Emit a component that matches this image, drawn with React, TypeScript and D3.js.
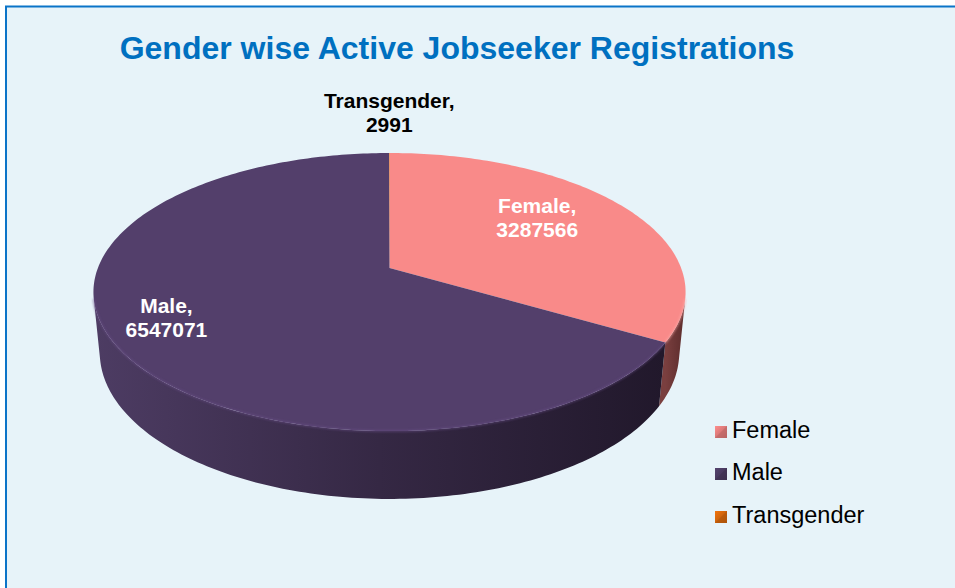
import React from "react";
import * as d3 from "d3";

const title = "Gender wise Active Jobseeker Registrations";
const categories = ["Female", "Male", "Transgender"];
const values = [3287566, 6547071, 2991];
const topColors = ["#F98A89", "#533F6B", "#E36C0A"];
const sideStops = [
  ["#7A3F3F", "#5C2C2C"],
  ["#4D3C63", "#21182B"],
  ["#B8560A", "#8A3F06"],
];
const legendColors = ["#E07A7A", "#4A3A60", "#D2650C"];
const labelColors = ["#FFFFFF", "#FFFFFF", "#000000"];

const W = 955;
const H = 588;
// 3D view of the pie (perspective camera)
const cx = 389.5;
const cy = 268;
const focal = 1494.5;
const dist = 5.125;
const tilt = Math.asin(0.4626);
const thick = 0.236;
const labelK = [0.615, 0.82, 1.0];
const labelDy = [-16, -14, -44.7];

const sinA = Math.sin(tilt);
const cosA = Math.cos(tilt);

function project(X: number, Y: number, Z: number): [number, number] {
  const yc = Y * cosA + Z * sinA;
  const zc = -Y * sinA + Z * cosA + dist;
  return [cx + (focal * X) / zc, cy - (focal * yc) / zc];
}
function ring(theta: number, k = 1, Y = 0): [number, number] {
  return project(k * Math.sin(theta), Y, k * Math.cos(theta));
}
function samples(a0: number, a1: number): number[] {
  const n = Math.max(2, Math.ceil(((a1 - a0) / Math.PI) * 180));
  return d3.range(n + 1).map((i) => a0 + ((a1 - a0) * i) / n);
}
const line = d3.line<[number, number]>();

// visible side range: faces whose outward normal points at the camera
const visLimit = Math.acos(-1 / (dist * cosA));
const visStart = visLimit;
const visEnd = 2 * Math.PI - visLimit;

export default function App() {
  const pie = d3
    .pie<number>()
    .sort(null)
    .value((d) => d);
  const arcs = pie(values);

  const topPath = (a0: number, a1: number) => {
    const pts: [number, number][] = [project(0, 0, 0), ...samples(a0, a1).map((t) => ring(t))];
    return line(pts) + "Z";
  };

  const side = (a0: number, a1: number) => {
    const s0 = Math.max(a0, visStart);
    const s1 = Math.min(a1, visEnd);
    if (s1 <= s0) return null;
    const ts = samples(s0, s1);
    const top = ts.map((t) => ring(t));
    const bot = ts.slice().reverse().map((t) => ring(t, 1, -thick));
    const xs = top.map((p) => p[0]);
    return {
      d: line([...top, ...bot]) + "Z",
      rim: line(top)!,
      x0: d3.min(xs)!,
      x1: d3.max(xs)!,
    };
  };

  const legendY = [438, 480, 523];

  return (
    <svg
      width={W}
      height={H}
      style={{ position: "absolute", left: 0, top: 0, display: "block" }}
      fontFamily="'Liberation Sans', Arial, sans-serif"
    >
      <defs>
        {arcs.map((a, i) => {
          const s = side(a.startAngle, a.endAngle);
          if (!s) return null;
          return (
            <linearGradient
              key={i}
              id={`side${i}`}
              gradientUnits="userSpaceOnUse"
              x1={s.x0}
              x2={s.x1}
              y1={0}
              y2={0}
            >
              <stop offset="0" stopColor={sideStops[i][0]} />
              <stop offset="0.5" stopColor={d3.interpolateRgb(sideStops[i][0], sideStops[i][1])(0.55)} />
              <stop offset="1" stopColor={sideStops[i][1]} />
            </linearGradient>
          );
        })}
        <filter id="blur1" x="-5%" y="-5%" width="110%" height="110%">
          <feGaussianBlur stdDeviation="1" />
        </filter>
        {[0, 1, 2].map((i) => (
          <linearGradient key={i} id={`leg${i}`} x1="0" y1="0" x2="1" y2="1">
            <stop offset="0" stopColor={d3.color(legendColors[i])!.brighter(0.4).toString()} />
            <stop offset="1" stopColor={d3.color(legendColors[i])!.darker(0.6).toString()} />
          </linearGradient>
        ))}
      </defs>
      <rect x={0} y={0} width={W} height={H} fill="#FFFFFF" />
      <rect x={6} y={6.5} width={W + 10} height={H + 10} fill="#E7F3F9" stroke="#0B74C8" strokeWidth={2} />
      <text x={457} y={59} textAnchor="middle" fontSize={32} fontWeight="bold" fill="#0070C0">
        {title}
      </text>

      {/* side walls */}
      {arcs.map((a, i) => {
        const s = side(a.startAngle, a.endAngle);
        if (!s) return null;
        return <path key={`s${i}`} d={s.d} fill={`url(#side${i})`} />;
      })}
      {/* top faces */}
      {arcs.map((a, i) => (
        <path key={`t${i}`} d={topPath(a.startAngle, a.endAngle)} fill={topColors[i]} />
      ))}
      {/* rim highlight */}
      {arcs.map((a, i) => {
        const s = side(a.startAngle, a.endAngle);
        if (!s) return null;
        return (
          <path
            key={`r${i}`}
            d={s.rim}
            fill="none"
            stroke={d3.color(topColors[i])!.brighter(0.6).toString()}
            strokeWidth={2}
            opacity={0.6}
            filter="url(#blur1)"
          />
        );
      })}

      {/* labels */}
      {arcs.map((a, i) => {
        const mid = (a.startAngle + a.endAngle) / 2;
        const [lx, ly0] = ring(mid, labelK[i]);
        const ly = ly0 + labelDy[i];
        return (
          <text
            key={`l${i}`}
            x={lx}
            y={ly}
            textAnchor="middle"
            fontSize={21}
            fontWeight="bold"
            fill={labelColors[i]}
          >
            <tspan x={lx}>{categories[i]},</tspan>
            <tspan x={lx} dy={24}>
              {values[i]}
            </tspan>
          </text>
        );
      })}

      {/* legend */}
      {categories.map((c, i) => (
        <g key={`g${i}`}>
          <rect x={715} y={legendY[i] - 12} width={12} height={12} fill={`url(#leg${i})`} />
          <path
            d={`M${715},${legendY[i]}L${721},${legendY[i] - 6}L${727},${legendY[i] - 12}L${727},${legendY[i]}Z`}
            fill={d3.color(legendColors[i])!.darker(0.5).toString()}
            opacity={0.6}
          />
          <text x={732} y={legendY[i]} fontSize={23.5} fill="#000000">
            {c}
          </text>
        </g>
      ))}
    </svg>
  );
}
